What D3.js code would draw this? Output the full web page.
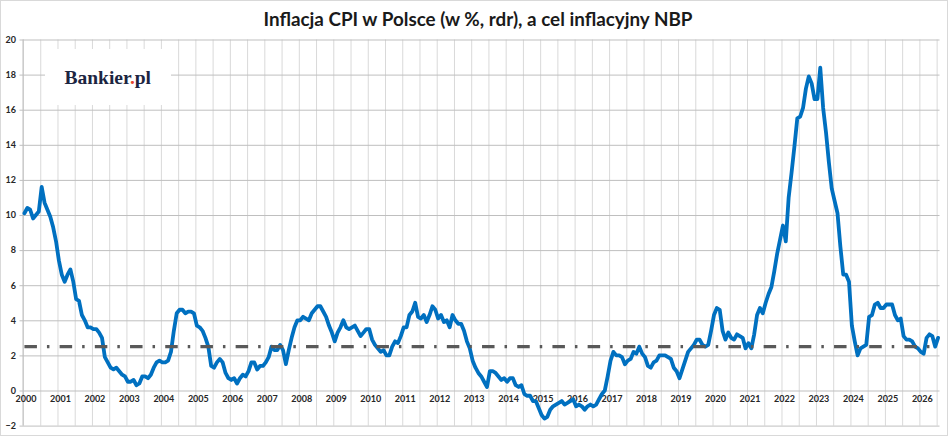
<!DOCTYPE html>
<html>
<head>
<meta charset="utf-8">
<script src="https://cdn.jsdelivr.net/npm/d3@7"></script>
<style>
  html, body { margin: 0; padding: 0; background: #fff; }
  svg { display: block; }
</style>
</head>
<body>
<svg id="chart" width="948" height="436"></svg>
<script>
// ---------- DATA ----------
const chartTitle = "Inflacja CPI w Polsce (w %, rdr), a cel inflacyjny NBP";
const startYear = 2000;
const yearLabels = ["2000","2001","2002","2003","2004","2005","2006","2007","2008","2009","2010","2011","2012","2013","2014","2015","2016","2017","2018","2019","2020","2021","2022","2023","2024","2025","2026"];
const yTicks = [-2, 0, 2, 4, 6, 8, 10, 12, 14, 16, 18, 20];
const nbpTarget = 2.5;
// monthly CPI y/y (%), Jan 2000 onwards
const cpi = [
  10.1, 10.4, 10.3, 9.8, 10.0, 10.2, 11.6, 10.7, 10.3, 9.9, 9.3, 8.5,
  7.4, 6.6, 6.2, 6.6, 6.9, 6.2, 5.2, 5.1, 4.3, 4.0, 3.6, 3.6,
  3.5, 3.5, 3.3, 3.0, 1.9, 1.6, 1.3, 1.2, 1.3, 1.1, 0.9, 0.8,
  0.5, 0.5, 0.6, 0.3, 0.4, 0.8, 0.8, 0.7, 0.9, 1.3, 1.6, 1.7,
  1.6, 1.6, 1.7, 2.2, 3.4, 4.4, 4.6, 4.6, 4.4, 4.5, 4.5, 4.4,
  3.7, 3.6, 3.4, 3.0, 2.5, 1.4, 1.3, 1.6, 1.8, 1.6, 1.0, 0.7,
  0.6, 0.7, 0.4, 0.7, 0.9, 0.8, 1.1, 1.6, 1.6, 1.2, 1.4, 1.4,
  1.6, 1.9, 2.5, 2.3, 2.3, 2.6, 2.3, 1.5, 2.3, 3.0, 3.6, 4.0,
  4.0, 4.2, 4.1, 4.0, 4.4, 4.6, 4.8, 4.8, 4.5, 4.2, 3.7, 3.3,
  2.8, 3.3, 3.6, 4.0, 3.6, 3.5, 3.6, 3.7, 3.4, 3.1, 3.3, 3.5,
  3.5, 2.9, 2.6, 2.4, 2.2, 2.3, 2.0, 2.0, 2.5, 2.8, 2.7, 3.1,
  3.6, 3.6, 4.3, 4.5, 5.0, 4.2, 4.1, 4.3, 3.9, 4.3, 4.8, 4.6,
  4.1, 4.3, 3.9, 4.0, 3.6, 4.3, 4.0, 3.8, 3.8, 3.4, 2.8, 2.4,
  1.7, 1.3, 1.0, 0.8, 0.5, 0.2, 1.1, 1.1, 1.0, 0.8, 0.6, 0.7,
  0.5, 0.7, 0.7, 0.3, 0.2, 0.3, -0.2, -0.3, -0.3, -0.6, -0.6, -1.0,
  -1.4, -1.6, -1.5, -1.1, -0.9, -0.8, -0.7, -0.6, -0.8, -0.7, -0.6, -0.5,
  -0.9, -0.8, -0.9, -1.1, -0.9, -0.8, -0.9, -0.8, -0.5, -0.2, 0.0, 0.8,
  1.7, 2.2, 2.0, 2.0, 1.9, 1.5, 1.7, 1.8, 2.2, 2.1, 2.5, 2.1,
  1.9, 1.4, 1.3, 1.6, 1.7, 2.0, 2.0, 2.0, 1.9, 1.8, 1.3, 1.1,
  0.7, 1.2, 1.7, 2.2, 2.4, 2.6, 2.9, 2.9, 2.6, 2.5, 2.6, 3.4,
  4.3, 4.7, 4.6, 3.4, 2.9, 3.3, 3.0, 2.9, 3.2, 3.1, 3.0, 2.4,
  2.7, 2.4, 3.2, 4.3, 4.7, 4.4, 5.0, 5.5, 5.9, 6.8, 7.8, 8.6,
  9.4, 8.5, 11.0, 12.4, 13.9, 15.5, 15.6, 16.1, 17.2, 17.9, 17.5, 16.6,
  16.6, 18.4, 16.1, 14.7, 13.0, 11.5, 10.8, 10.1, 8.2, 6.6, 6.6, 6.2,
  3.7, 2.8, 2.0, 2.4, 2.5, 2.6, 4.2, 4.3, 4.9, 5.0, 4.7, 4.7,
  4.9, 4.9, 4.9, 4.3, 4.0, 4.1, 3.1, 2.9, 2.9, 2.8, 2.5, 2.4,
  2.2, 2.1, 3.0, 3.2, 3.1, 2.5, 3.0
];

// ---------- LAYOUT ----------
const W = 948, H = 436;
const plot = { left: 23, right: 939.5, top: 39.5, bottom: 425.6 };
const nCat = cpi.length;

const svg = d3.select("#chart");

svg.append("rect").attr("x", 0.5).attr("y", 0.5).attr("width", W - 1).attr("height", H - 1)
  .attr("fill", "#fff").attr("stroke", "#d9d9d9");

const x = d3.scaleLinear().domain([0, nCat]).range([plot.left, plot.right]);
const y = d3.scaleLinear().domain([-2, 20]).range([plot.bottom, plot.top]);

// vertical gridlines every 6 months
const vTicks = d3.range(0, nCat, 6);
const gx = svg.append("g").attr("transform", `translate(0,${plot.bottom})`)
  .call(d3.axisBottom(x).tickValues(vTicks).tickSize(-(plot.bottom - plot.top)).tickFormat(""));
gx.select(".domain").remove();
gx.selectAll("line").attr("stroke", "#d9d9d9").attr("stroke-width", 1);

// horizontal gridlines
const gy = svg.append("g").attr("transform", `translate(${plot.right},0)`)
  .call(d3.axisLeft(y).tickValues(yTicks).tickSize(plot.right - plot.left + 3.5).tickFormat(""));
gy.select(".domain").remove();
gy.selectAll("line").attr("stroke", "#bfbfbf").attr("stroke-width", 1);

// y-axis line
svg.append("line").attr("x1", plot.left).attr("x2", plot.left)
  .attr("y1", plot.top).attr("y2", plot.bottom).attr("stroke", "#bfbfbf");

// y labels
const gyl = svg.append("g").attr("transform", `translate(16,0)`)
  .call(d3.axisLeft(y).tickValues(yTicks).tickSize(0).tickPadding(0));
gyl.select(".domain").remove();
gyl.selectAll("text").attr("font-family", "Lato, 'Open Sans', sans-serif")
  .attr("font-weight", "bold").attr("font-size", "9px").attr("fill", "#262626");

// year labels (positioned below zero line)
const gxl = svg.append("g").attr("transform", `translate(1,${y(0) + 5})`)
  .call(d3.axisBottom(x).tickValues(yearLabels.map((d, i) => i * 12 + 0.5))
    .tickFormat((d, i) => yearLabels[i]).tickSize(0).tickPadding(0));
gxl.select(".domain").remove();
gxl.selectAll("text").attr("font-family", "Lato, 'Open Sans', sans-serif")
  .attr("font-weight", "bold").attr("font-size", "9px").attr("fill", "#262626");

// logo box
svg.append("rect").attr("x", 45).attr("y", 49).attr("width", 126).attr("height", 56).attr("fill", "#fff");
const logo = svg.append("text").attr("x", 64.5).attr("y", 84)
  .attr("font-family", "'Liberation Serif', 'DejaVu Serif', serif").attr("font-weight", "bold")
  .attr("font-size", "19.5px").attr("fill", "#1c2541");
logo.append("tspan").text("Bankier");
logo.append("tspan").attr("fill", "#e8452c").text(".");
logo.append("tspan").text("pl");

// title
svg.append("text").attr("x", 478).attr("y", 26).attr("text-anchor", "middle")
  .attr("font-family", "Lato, 'Open Sans', sans-serif").attr("font-weight", "bold")
  .attr("font-size", "19px").attr("fill", "#1a1a1a")
  .attr("textLength", 429).attr("lengthAdjust", "spacingAndGlyphs")
  .text(chartTitle);

// CPI line
const line = d3.line().x((d, i) => x(i + 0.5)).y(d => y(d));
svg.append("path").datum(cpi).attr("d", line)
  .attr("fill", "none").attr("stroke", "#0070c0").attr("stroke-width", 3.8)
  .attr("stroke-linejoin", "round").attr("stroke-linecap", "round");

// NBP target line
const targetData = cpi.map(() => nbpTarget);
svg.append("path").datum(targetData).attr("d", line)
  .attr("fill", "none").attr("stroke", "#595959").attr("stroke-width", 3.4)
  .attr("stroke-dasharray", "12.5,10,2.5,10.2");
</script>
</body>
</html>
